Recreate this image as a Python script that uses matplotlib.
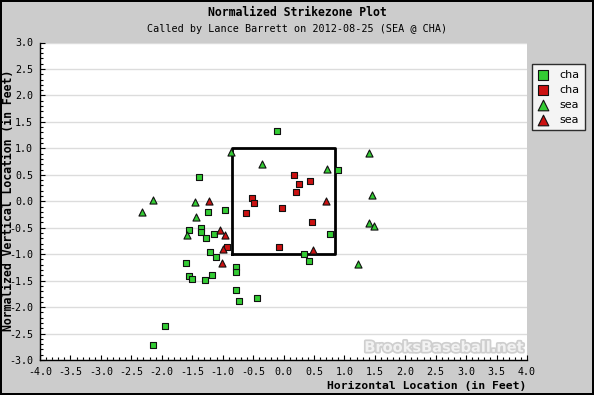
import matplotlib

matplotlib.use("Agg")
import matplotlib.pyplot as plt  # noqa: E402
import matplotlib.patheffects as pe  # noqa: E402
from matplotlib.ticker import MultipleLocator, FormatStrFormatter  # noqa: E402

plt.rcParams["axes.unicode_minus"] = False
MONO = "DejaVu Sans Mono"

# pitch locations (feet)
cha_strike_x = [-0.10, -1.38, -1.24, -0.96, -1.55, -1.36, -1.36, -1.27, -1.14,
                -1.21, -1.11, -1.60, -0.78, -0.78, -1.55, -1.50, -1.17, -1.29,
                -0.78, -0.73, -0.43, -1.95, -2.15, 0.89, 0.76, 0.34, 0.42]
cha_strike_y = [1.32, 0.46, -0.21, -0.17, -0.55, -0.51, -0.59, -0.69, -0.61,
                -0.95, -1.06, -1.17, -1.25, -1.34, -1.42, -1.46, -1.40, -1.49,
                -1.68, -1.89, -1.83, -2.36, -2.71, 0.59, -0.61, -0.99, -1.12]
cha_ball_x = [-0.51, -0.48, -0.61, 0.18, 0.26, 0.44, 0.21, -0.02, 0.46,
              -0.07, -0.93]
cha_ball_y = [0.06, -0.03, -0.22, 0.50, 0.33, 0.38, 0.18, -0.12, -0.39,
              -0.87, -0.87]
sea_strike_x = [-0.86, -0.35, -2.15, -1.46, -2.33, -1.44, -1.58, 0.72, 1.40,
                1.45, 1.40, 1.49, 1.23]
sea_strike_y = [0.93, 0.71, 0.03, -0.02, -0.21, -0.30, -0.64, 0.61, 0.91,
                0.11, -0.42, -0.47, -1.18]
sea_ball_x = [-1.23, -1.04, -0.96, -0.99, -1.01, 0.69, 0.49]
sea_ball_y = [0.00, -0.54, -0.64, -0.91, -1.17, 0.00, -0.92]

zone_x = [-0.84, 0.84]
zone_y = [-1.0, 1.0]

GREEN = "#33cc33"
RED = "#cc1111"

fig = plt.figure(figsize=(5.94, 3.95), dpi=100)
fig.patch.set_facecolor("#cccccc")
fig.patch.set_edgecolor("black")
fig.patch.set_linewidth(1.5)

ax = fig.add_axes([40 / 594, 1 - 360 / 395, 487 / 594, 317.5 / 395])
ax.set_facecolor("white")
ax.set_xlim(-4, 4)
ax.set_ylim(-3, 3)

for s in ("top", "right"):
    ax.spines[s].set_visible(False)
for s in ("left", "bottom"):
    ax.spines[s].set_linewidth(1.0)

ax.xaxis.set_major_locator(MultipleLocator(0.5))
ax.xaxis.set_minor_locator(MultipleLocator(0.1))
ax.yaxis.set_major_locator(MultipleLocator(0.5))
ax.yaxis.set_minor_locator(MultipleLocator(0.1))
ax.xaxis.set_major_formatter(FormatStrFormatter("%.1f"))
ax.yaxis.set_major_formatter(FormatStrFormatter("%.1f"))
ax.tick_params(which="major", direction="in", length=3.5, width=0.8,
               labelsize=7.2, pad=5)
ax.tick_params(which="minor", direction="in", length=2, width=0.8)
for lab in ax.get_xticklabels() + ax.get_yticklabels():
    lab.set_family(MONO)

ax.yaxis.grid(True, which="major", color="#dcdcdc", lw=1)
ax.set_axisbelow(True)

# strike zone
ax.plot([zone_x[0], zone_x[1], zone_x[1], zone_x[0], zone_x[0]],
        [zone_y[0], zone_y[0], zone_y[1], zone_y[1], zone_y[0]],
        color="black", lw=2, zorder=2)

kw = dict(edgecolors="#111111", linewidths=0.8, zorder=3)
ax.scatter(cha_strike_x, cha_strike_y, marker="s", s=20, c=GREEN, label="cha", **kw)
ax.scatter(cha_ball_x, cha_ball_y, marker="s", s=20, c=RED, label="cha", **kw)
ax.scatter(sea_strike_x, sea_strike_y, marker="^", s=26, c=GREEN, label="sea", **kw)
ax.scatter(sea_ball_x, sea_ball_y, marker="^", s=26, c=RED, label="sea", **kw)

ax.text(0.995, 0.04, "BrooksBaseball.net", transform=ax.transAxes,
        ha="right", va="center", fontsize=10.5, fontweight="bold",
        family="DejaVu Sans", color="#f2f2f2",
        path_effects=[pe.withStroke(linewidth=2.5, foreground="#cfcfcf")],
        zorder=1)

fig.text(0.5, 1 - 12 / 395, "Normalized Strikezone Plot", ha="center",
         va="center", family=MONO, fontweight="bold", fontsize=8.3)
fig.text(0.5, 1 - 29 / 395, "Called by Lance Barrett on 2012-08-25 (SEA @ CHA)",
         ha="center", va="center", family=MONO, fontsize=7.3)
fig.text(526 / 594, 1 - 386 / 395, "Horizontal Location (in Feet)", ha="right",
         va="center", family=MONO, fontweight="bold", fontsize=8.2)
fig.text(8.5 / 594, 1 - 200 / 395, "Normalized Vertical Location (in Feet)",
         ha="center", va="center", rotation=90, family=MONO,
         fontweight="bold", fontsize=8.3)

leg = fig.legend(loc="upper left", bbox_to_anchor=(532 / 594, 1 - 64 / 395),
                 frameon=True, fancybox=False, fontsize=8, handlelength=1.0,
                 handletextpad=1.0, borderpad=0.5, labelspacing=0.45,
                 borderaxespad=0, markerscale=1.5)
leg.get_frame().set_edgecolor("black")
leg.get_frame().set_linewidth(1.0)

fig.savefig("out.png", dpi=100, facecolor=fig.get_facecolor(),
            edgecolor=fig.get_edgecolor())
